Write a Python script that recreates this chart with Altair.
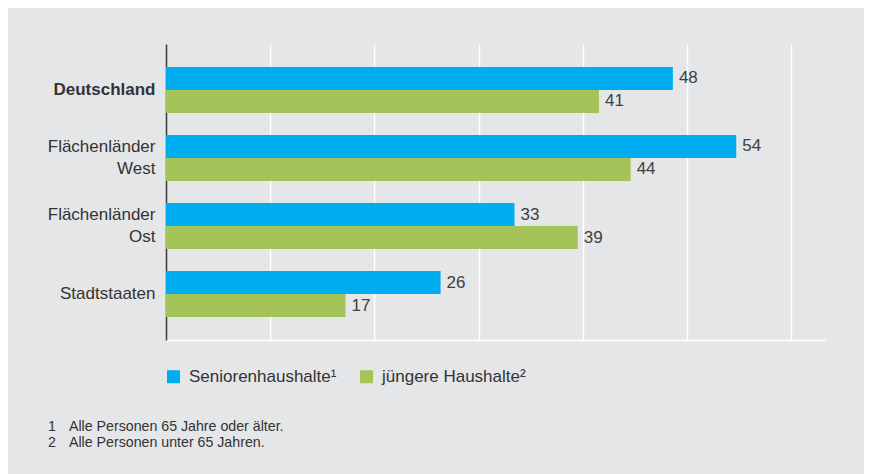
import altair as alt
import pandas as pd

regions = ["Deutschland", "Flächenländer West", "Flächenländer Ost", "Stadtstaaten"]
series = ["Seniorenhaushalte¹", "jüngere Haushalte²"]
senioren = [48, 54, 33, 26]
juengere = [41, 44, 39, 17]
colors = ["#00adef", "#a4c459"]
grid_values = [9.87, 19.74, 29.61, 39.48, 49.35, 59.22]
foot_nums = ["1", "2"]
foot_texts = ["Alle Personen 65 Jahre oder älter.", "Alle Personen unter 65 Jahren."]

rows = []
for r, s, j in zip(regions, senioren, juengere):
    rows.append({"Region": r, "Serie": series[0], "Wert": s})
    rows.append({"Region": r, "Serie": series[1], "Wert": j})
df = pd.DataFrame(rows)

FONT = "Liberation Sans"
BG = "#e5e6e8"
TXT = "#333333"

y_enc = alt.Y(
    "Region:N",
    sort=regions,
    scale=alt.Scale(paddingInner=0.3235, paddingOuter=0.338),
    axis=alt.Axis(
        title=None,
        ticks=False,
        tickSize=0,
        domainColor="#3a3a3a",
        domainWidth=1.5,
        labelFont=FONT,
        labelFontSize=17,
        labelColor=TXT,
        labelPadding=11,
        labelAlign="right",
        labelLineHeight=22,
        labelExpr="split(datum.label, ' ')",
        labelOffset={"condition": {"test": "indexof(datum.value, ' ') >= 0", "value": -11}, "value": 0},
        labelFontWeight={"condition": {"test": "datum.value == 'Deutschland'", "value": "bold"}, "value": "normal"},
        grid=False,
    ),
)
x_enc = alt.X(
    "Wert:Q",
    scale=alt.Scale(domain=[0, 62.5], nice=False),
    axis=alt.Axis(
        title=None,
        labels=False,
        ticks=False,
        values=grid_values,
        grid=True,
        gridColor="#ffffff",
        gridWidth=1.5,
        domainColor="#ffffff",
        domainWidth=1.5,
    ),
)
yoff = alt.YOffset("Serie:N", sort=series)

bars = alt.Chart(df).mark_bar(size=23).encode(
    x=x_enc,
    y=y_enc,
    yOffset=yoff,
    color=alt.Color(
        "Serie:N",
        sort=series,
        scale=alt.Scale(domain=series, range=colors),
        legend=alt.Legend(
            title=None,
            orient="none",
            legendX=-1,
            legendY=324,
            direction="horizontal",
            symbolType="square",
            symbolSize=169,
            symbolStrokeWidth=0,
            labelFont=FONT,
            labelFontSize=17,
            labelColor=TXT,
            labelOffset=7,
            columnPadding=21,
            padding=0,
        ),
    ),
)

labels = alt.Chart(df).mark_text(
    align="left", baseline="middle", dx=6, font=FONT, fontSize=17, color="#404040"
).encode(
    x="Wert:Q",
    y=alt.Y("Region:N", sort=regions),
    yOffset=yoff,
    text="Wert:Q",
)

foot1 = alt.Chart(pd.DataFrame({"t": [foot_nums[0]], "u": [foot_texts[0]]}))
foot2 = alt.Chart(pd.DataFrame({"t": [foot_nums[1]], "u": [foot_texts[1]]}))

def foot_layer(src, ypos):
    n = src.mark_text(align="left", baseline="middle", font=FONT, fontSize=14.2, color=TXT).encode(
        x=alt.value(-118), y=alt.value(ypos), text="t:N"
    )
    t = src.mark_text(align="left", baseline="middle", font=FONT, fontSize=14.2, color=TXT).encode(
        x=alt.value(-97), y=alt.value(ypos), text="u:N"
    )
    return n + t

chart = alt.layer(
    bars, labels, foot_layer(foot1, 383), foot_layer(foot2, 399)
).properties(
    width=660,
    height=296,
    padding={"left": 158, "top": 36, "right": 38, "bottom": 134},
    autosize=alt.AutoSizeParams(type="none"),
    background=BG,
).configure_view(stroke=None, fill=BG)

chart.save("out.html", embed_options={"renderer": "svg", "actions": False})
